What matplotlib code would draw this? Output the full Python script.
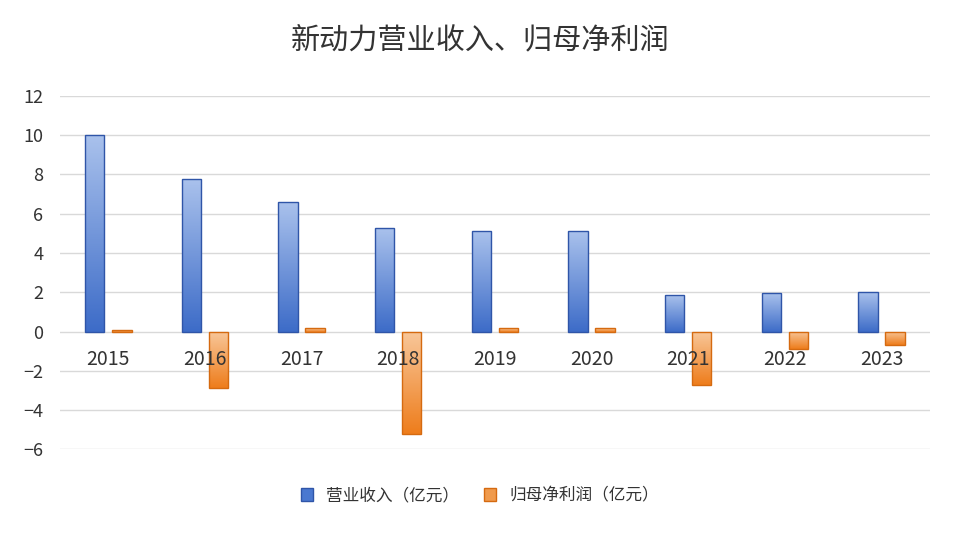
import matplotlib
matplotlib.use("Agg")
import matplotlib.pyplot as plt
import numpy as np
from matplotlib.colors import LinearSegmentedColormap

plt.rcParams["font.family"] = ["Noto Sans CJK SC"]

years = ["2015","2016","2017","2018","2019","2020","2021","2022","2023"]
revenue = [10.0, 7.75, 6.6, 5.25, 5.1, 5.1, 1.85, 1.95, 2.0]
profit = [0.1, -2.9, 0.2, -5.2, 0.2, 0.2, -2.7, -0.9, -0.7]

fig = plt.figure(figsize=(9.6, 5.33), dpi=100)
ax = fig.add_axes([0.0625, 0.157, 0.906, 0.663])
x = np.arange(len(years))
w = 0.2
blue_cm = LinearSegmentedColormap.from_list("b", ["#3d6cc8", "#a9c1ec"])
orange_cm = LinearSegmentedColormap.from_list("o", ["#ee7d1c", "#f8c79a"])

def grad_bars(xs, vals, cmap, edge):
    bars = ax.bar(xs, vals, w, facecolor="none", edgecolor=edge, linewidth=1.0, zorder=3)
    for b, v in zip(bars, vals):
        x0 = b.get_x(); x1 = x0 + b.get_width()
        y0, y1 = (0, v) if v >= 0 else (v, 0)
        g = np.linspace(0, 1, 100).reshape(-1, 1)
        im = ax.imshow(g, cmap=cmap, extent=[x0, x1, y0, y1], origin="lower",
                       aspect="auto", zorder=2)
        im.set_clip_path(b)
    return bars

grad_bars(x - 0.14, revenue, blue_cm, "#2f55a8")
grad_bars(x + 0.14, profit, orange_cm, "#d56a10")

ax.set_xlim(-0.5, len(years) - 0.5)
ax.set_ylim(-6, 12)
ax.set_yticks(range(-6, 13, 2))
ax.set_xticks([])
for i, y in enumerate(years):
    ax.text(i, -1.4, y, ha="center", va="center", fontsize=14, color="#333333", zorder=4)
ax.grid(axis="y", color="#d9d9d9", linewidth=1, zorder=0)
ax.set_axisbelow(True)
for s in ax.spines.values():
    s.set_visible(False)
ax.tick_params(axis="y", length=0, labelsize=13, labelcolor="#333333", pad=12)

fig.text(0.5, 0.925, "新动力营业收入、归母净利润", ha="center", va="center", fontsize=21, color="#333333")

from matplotlib.patches import Patch
handles = [Patch(facecolor="#4a78d0", edgecolor="#2f55a8"), Patch(facecolor="#f09a4c", edgecolor="#d56a10")]
fig.legend(handles, ["营业收入（亿元）", "归母净利润（亿元）"], loc="center", bbox_to_anchor=(0.5, 0.07),
           ncol=2, frameon=False, fontsize=12, handlelength=0.7, handleheight=0.9, columnspacing=1.5,
           labelcolor="#333333")
fig.savefig("out.png", dpi=100, facecolor="white")
